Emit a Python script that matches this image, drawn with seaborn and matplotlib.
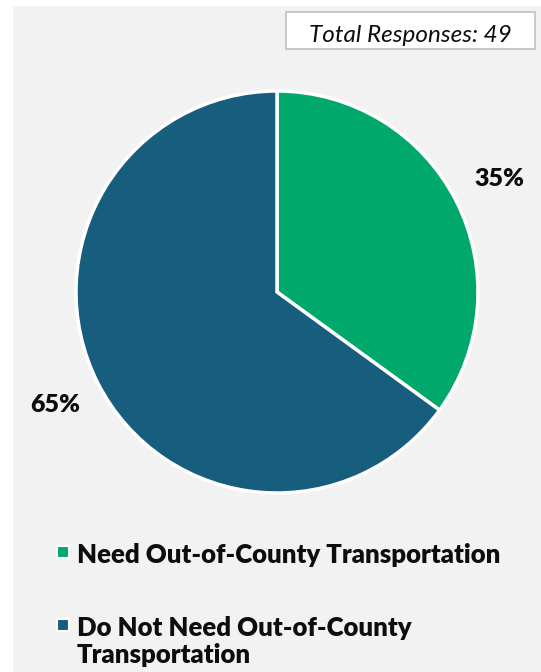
import matplotlib
matplotlib.use("Agg")
import matplotlib.pyplot as plt
from matplotlib.patches import Rectangle
import seaborn as sns

categories = ["Need Out-of-County Transportation",
              "Do Not Need Out-of-County\nTransportation"]
shares = [35, 65]
total_responses = 49

sns.set_style("white")
plt.rcParams["font.family"] = ["Lato", "DejaVu Sans"]

palette = sns.color_palette(["#00A86B", "#175E7E"])
panel_color = "#F2F2F2"
ink = "#0D0D0D"

W, H = 541, 672
fig = plt.figure(figsize=(W / 100, H / 100), dpi=100, facecolor="white")


def fx(px):
    return px / W


def fy(py):
    return 1 - py / H


# light gray panel behind everything
fig.patches.append(Rectangle((fx(13), 0), 1 - fx(13), fy(6),
                             transform=fig.transFigure, facecolor=panel_color,
                             edgecolor="none", zorder=-5))

# square pie axes
cx, cy, r = 277, 292, 201
ax = fig.add_axes([fx(cx - r), fy(cy + r), 2 * r / W, 2 * r / H])
ax.set_facecolor("none")
ax.set_zorder(2)

wedges, texts, autotexts = ax.pie(
    shares, colors=palette, startangle=90, counterclock=False,
    autopct=lambda p: f"{p:.0f}%", pctdistance=1.24,
    wedgeprops=dict(edgecolor="white", linewidth=2.5),
    textprops=dict(fontsize=18, fontweight="heavy", color=ink))
ax.set_xlim(-1, 1)
ax.set_ylim(-1, 1)
ax.set_aspect("equal")
ax.axis("off")

# total responses box
bx0, by0, bx1, by1 = 286, 12, 535, 49
fig.patches.append(Rectangle((fx(bx0), fy(by1)), (bx1 - bx0) / W, (by1 - by0) / H,
                             transform=fig.transFigure, facecolor="white",
                             edgecolor="#BFBFBF", linewidth=1.2, zorder=1))
fig.text(fx((bx0 + bx1) / 2), fy(36), f"Total Responses: {total_responses}",
         ha="center", va="center", fontsize=17.5, style="italic", color=ink,
         zorder=3)

# legend: square swatch beside the first line of each label
legend_rows = [552, 625]
for color, label, ry in zip(palette, categories, legend_rows):
    fig.patches.append(Rectangle((fx(57), fy(ry + 6)), 12 / W, 12 / H,
                                 transform=fig.transFigure, facecolor=color,
                                 edgecolor="white", linewidth=1.5, zorder=3))
    fig.text(fx(77), fy(ry - 9), label, ha="left", va="top", fontsize=18.5,
             fontweight="heavy", color=ink, linespacing=1.15, zorder=3)

fig.savefig("out.png", dpi=100, facecolor="white")
